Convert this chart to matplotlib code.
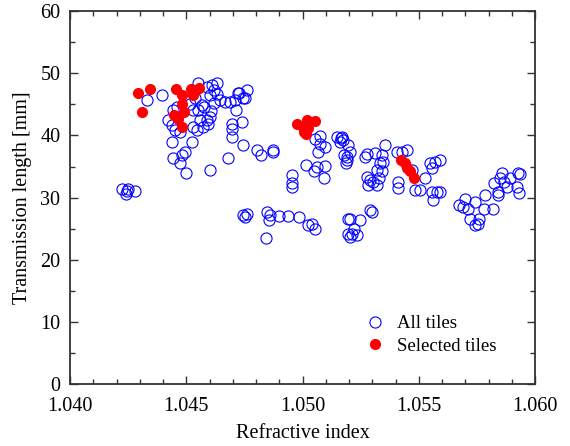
import matplotlib
matplotlib.use("Agg")
import matplotlib.pyplot as plt
from matplotlib.ticker import MultipleLocator, FormatStrFormatter

plt.rcParams['font.family'] = ['Liberation Serif', 'DejaVu Serif']

# all tiles (refractive index, transmission length in mm)
all_n = [
    1.04225, 1.0424, 1.0425, 1.0428, 1.04245,
    1.0433, 1.04397, 1.04548, 1.04588, 1.0461, 1.04631, 1.04617, 1.04602,
    1.04631, 1.04645, 1.04667, 1.04688, 1.0471, 1.04724, 1.0476, 1.04745,
    1.04714, 1.04695, 1.04738, 1.04695, 1.04695, 1.04745, 1.04803, 1.04681,
    1.04602, 1.045, 1.04444, 1.04473, 1.0448, 1.04495, 1.04437, 1.04523,
    1.04423, 1.04444, 1.04459, 1.04437, 1.04452, 1.04473, 1.04516, 1.0453,
    1.04552, 1.04566, 1.04559, 1.04588, 1.0453, 1.04545, 1.04573, 1.04595,
    1.04602, 1.04538, 1.04727, 1.04752, 1.04821, 1.04874, 1.04872,
    1.04956, 1.04956, 1.04956, 1.05013, 1.0505, 1.05061,
    1.04742, 1.04752, 1.04762, 1.04846, 1.04857, 1.04860, 1.04899, 1.04935,
    1.04983, 1.05025, 1.05042, 1.05054, 1.04842,
    1.05094, 1.05092, 1.05054, 1.05075, 1.05068, 1.05097, 1.05075,
    1.05147, 1.05161, 1.05168, 1.05178, 1.0519, 1.05197, 1.05197, 1.05197,
    1.05173, 1.05165, 1.05204, 1.0519, 1.05187, 1.05269, 1.05276, 1.05309,
    1.05352, 1.05341, 1.05334, 1.05345, 1.05319, 1.05341, 1.05276, 1.0529,
    1.05283, 1.05304, 1.05319, 1.0533, 1.05405, 1.05426, 1.05448, 1.05412,
    1.05412, 1.0547, 1.05484, 1.05506, 1.05527, 1.05548, 1.0557, 1.05555,
    1.05555, 1.05577, 1.05562, 1.0529, 1.05297, 1.05204, 1.05247, 1.05219,
    1.05212, 1.05233, 1.05204,
    1.05591, 1.05591, 1.05674, 1.05691, 1.05699, 1.05713, 1.05739, 1.05782,
    1.05778, 1.05817, 1.0572, 1.0576, 1.05742, 1.05752, 1.05821, 1.05842,
    1.05849, 1.05864, 1.05878, 1.05892, 1.05842, 1.05921, 1.05931, 1.05924,
    1.05935, 1.05856, 1.04575, 1.04605, 1.0462,
]
all_len = [
    31.3, 30.6, 31.4, 31.1, 31.0,
    45.7, 46.5, 48.5, 47.8, 48.1, 48.5, 47.3, 46.5,
    46.7, 45.7, 45.4, 45.4, 45.7, 46.8, 47.3, 46.0,
    44.1, 41.9, 42.2, 41.1, 39.8, 38.4, 37.6, 36.3,
    34.5, 33.9, 36.3, 35.5, 36.8, 37.4, 39.0, 39.0,
    42.5, 44.1, 44.6, 41.7, 40.9, 40.6, 45.1, 44.1,
    44.1, 44.9, 42.5, 42.5, 41.4, 40.9, 41.4, 41.9,
    43.0, 46.0, 46.9, 46.0, 36.8, 37.4, 37.6,
    33.6, 32.4, 31.7, 35.2, 34.2, 35.0,
    27.2, 26.9, 27.4, 27.7, 26.4, 27.2, 27.1, 27.1,
    26.9, 25.6, 25.8, 25.0, 23.5,
    35.1, 33.2, 39.5, 38.7, 37.4, 38.2, 39.9,
    39.8, 39.0, 39.8, 36.8, 36.0, 38.4, 26.6, 24.2,
    39.2, 39.6, 37.4, 36.6, 35.6, 36.6, 37.0, 37.1,
    38.4, 36.8, 35.5, 35.8, 34.4, 34.2, 33.3, 32.8,
    32.0, 32.5, 32.0, 33.1, 37.4, 37.4, 37.6, 32.5,
    31.6, 34.4, 31.2, 31.2, 33.1, 35.5, 35.8, 34.7,
    30.9, 30.9, 29.6, 28.0, 27.7, 26.6, 26.4, 25.0,
    24.1, 24.0, 23.7,
    36.0, 30.9, 28.8, 28.5, 29.7, 28.2, 29.3, 30.4,
    28.2, 28.2, 26.6, 26.6, 25.6, 25.8, 32.4, 30.4,
    33.2, 32.5, 31.7, 33.1, 30.9, 31.7, 30.7, 33.9,
    33.8, 33.9, 44.5, 44.0, 45.2,
]

# selected tiles
sel_n = [
    1.0429, 1.04342, 1.0431, 1.04454, 1.04483, 1.04479, 1.04488, 1.04446,
    1.04463, 1.04483, 1.04521, 1.04542, 1.04529, 1.04554,
    1.04975, 1.05018, 1.05055, 1.05004, 1.05014, 1.05025, 1.0500,
    1.05421, 1.05438, 1.0545, 1.05463, 1.0548,
]
sel_len = [
    46.8, 47.5, 43.8, 47.5, 46.5, 45.1, 43.8, 43.3,
    42.7, 41.4, 47.5, 47.3, 46.5, 47.6,
    41.9, 42.5, 42.4, 40.5, 40.2, 41.2, 41.3,
    36.1, 35.5, 34.8, 34.2, 33.2,
]

fig = plt.figure(figsize=(5.7, 4.46), dpi=100)
ax = fig.add_axes([0.123, 0.139, 0.816, 0.836])

ax.plot(all_n, all_len, 'o', mfc='none', mec='#0000ff', mew=0.8, ms=8,
        label='All tiles')
ax.plot(sel_n, sel_len, 'o', mfc='#ff0000', mec='#ff0000', ms=7,
        label='Selected tiles')

ax.set_xlim(1.040, 1.060)
ax.set_ylim(0, 60)
ax.xaxis.set_major_locator(MultipleLocator(0.005))
ax.xaxis.set_minor_locator(MultipleLocator(0.001))
ax.xaxis.set_major_formatter(FormatStrFormatter('%.3f'))
ax.yaxis.set_major_locator(MultipleLocator(10))
ax.yaxis.set_minor_locator(MultipleLocator(5))
ax.tick_params(which='both', direction='in', top=True, right=True,
               labelsize=14.5, width=1, color='#333333')
ax.tick_params(which='major', length=6)
ax.tick_params(axis='x', which='major', pad=9)
ax.tick_params(axis='y', which='major', pad=7)
ax.tick_params(which='minor', length=3.5)
for s in ax.spines.values():
    s.set_linewidth(1.3)
    s.set_color('#333333')

ax.set_xlabel('Refractive index', fontsize=14.5, labelpad=6)
ax.set_ylabel('Transmission length [mm]', fontsize=14.5, labelpad=6)

ax.legend(loc='lower left', bbox_to_anchor=(0.6, 0.058), frameon=False,
          fontsize=13.5, handletextpad=0.15, labelspacing=0.3, borderaxespad=0)

fig.savefig('out.png', dpi=100)
